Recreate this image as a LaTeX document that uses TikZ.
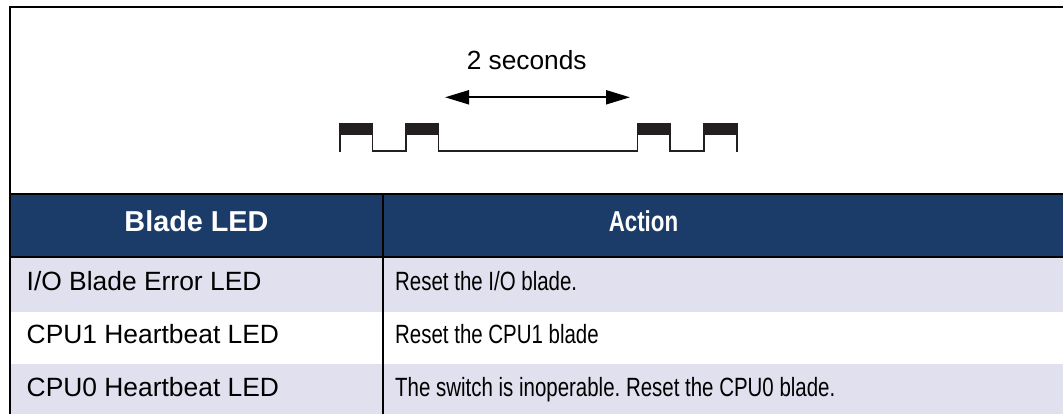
\documentclass[tikz,border=0pt]{standalone}
\usepackage{fontspec}
\setmainfont{Liberation Sans}
\newfontfamily\narrowfont[FakeStretch=0.775]{Liberation Sans}
\usetikzlibrary{arrows.meta}
\definecolor{hdrblue}{RGB}{27,60,104}
\definecolor{rowlav}{RGB}{224,224,238}
\definecolor{wave}{RGB}{35,31,32}
\frenchspacing
\begin{document}
\begin{tikzpicture}[x=1pt,y=-1pt,
  cell/.style={anchor=base west, inner sep=0pt, font=\fontsize{26.4}{30}\selectfont},
  actcell/.style={anchor=base west, inner sep=0pt, font=\narrowfont\fontsize{26.4}{30}\selectfont},
  hdr/.style={anchor=base, inner sep=0pt, text=white},
  rule/.style={line width=2pt, black},
  bar/.style={fill=wave},
  wavepath/.style={draw=wave, line width=1.8pt, line join=miter},
  timearrow/.style={line width=2pt, {Triangle[length=24pt,width=14pt]}-{Triangle[length=24pt,width=14pt]}}]
\useasboundingbox (0,0) rectangle (1063,414);
% table backgrounds
\fill[hdrblue] (10,194) rectangle (1063,257.5);
\fill[rowlav] (10,257.5) rectangle (1063,312);
\fill[rowlav] (10,363.5) rectangle (1063,414);
% rules
\draw[rule] (10,7) -- (1063,7);
\draw[rule] (10,6) -- (10,414);
\draw[rule, line width=2.5pt] (10,194) -- (1063,194);
\draw[rule] (10,257.5) -- (1063,257.5);
\draw[rule] (383,194) -- (383,414);
% header
\node[hdr, font=\bfseries\fontsize{28.8}{32}\selectfont] (h1) at (196.5,231.7) {Blade LED};
\node[hdr, font=\narrowfont\bfseries\fontsize{28.8}{32}\selectfont] (h2) at (643.5,231.7) {Action};
% rows
\node[cell] (l1) at (26.5,290.7) {I/O Blade Error LED};
\node[cell] (l2) at (26.5,343.3) {CPU1 Heartbeat LED};
\node[cell] (l3) at (26.5,396.7) {CPU0 Heartbeat LED};
\node[actcell] (r1) at (395,290.7) {Reset the I/O blade.};
\node[actcell] (r2) at (395,343.3) {Reset the CPU1 blade};
\node[actcell] (r3) at (395,396.7) {The switch is inoperable. Reset the CPU0 blade.};
% timing label and arrow
\node[anchor=base, inner sep=0pt, font=\fontsize{26.3}{30}\selectfont] (lbl) at (526.7,69.3) {2 seconds};
\coordinate (aL) at (445,97.3);
\coordinate (aR) at (630,97.3);
\draw[timearrow] (aL) -- (aR);
% waveform
\draw[wavepath] (340.3,152) -- (340.3,129) -- (372.5,129) -- (372.5,151) -- (406.1,151) -- (406.1,129)
  -- (438.5,129) -- (438.5,151) -- (637.5,151) -- (637.5,129) -- (670.2,129) -- (670.2,151)
  -- (704.1,151) -- (704.1,129) -- (736.9,129) -- (736.9,152);
\fill[bar] (339.3,122.7) rectangle (373.3,135.5);
\fill[bar] (405.3,122.7) rectangle (439.3,135.5);
\fill[bar] (636.7,122.7) rectangle (671,135.5);
\fill[bar] (703.3,122.7) rectangle (737.7,135.5);
\end{tikzpicture}
\end{document}
